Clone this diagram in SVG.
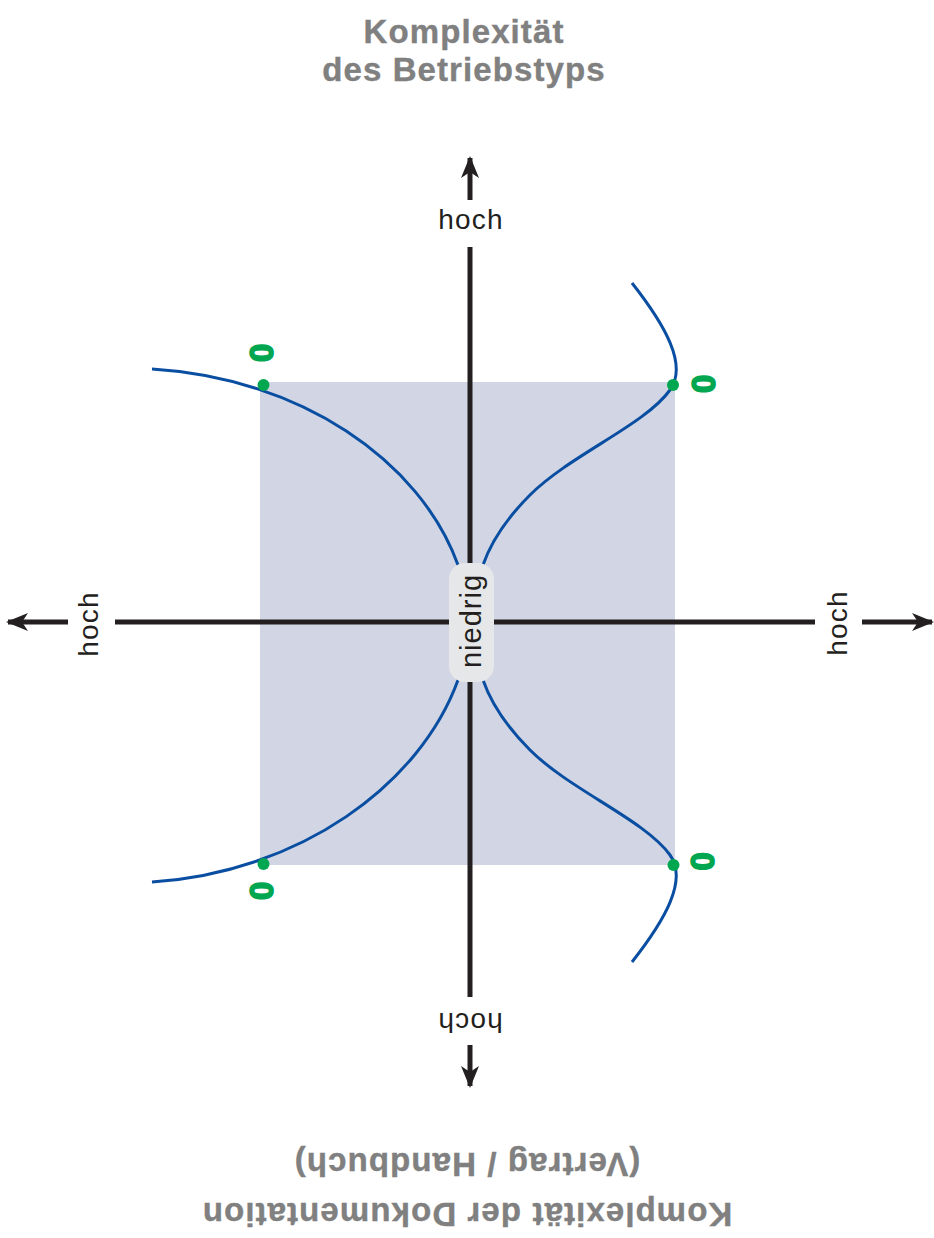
<svg xmlns="http://www.w3.org/2000/svg" width="934" height="1238" viewBox="0 0 934 1238">
<style>
.title{font-family:"Liberation Sans",Arial,sans-serif;font-weight:bold;font-size:33px;fill:#808080;stroke:#808080;stroke-width:0.4;letter-spacing:1.1px;text-anchor:middle}
.axis{stroke:#231f20;stroke-width:5;fill:none}
.lbl{font-family:"Liberation Sans",Arial,sans-serif;font-size:28px;fill:#231f20;letter-spacing:1.2px;text-anchor:middle}
.curve{stroke:#0a4ea2;stroke-width:3;fill:none}
.dot{fill:#00a650}
.zero{font-family:"Liberation Sans",Arial,sans-serif;font-weight:bold;font-size:33px;fill:#00a650;stroke:#00a650;stroke-width:1.6;text-anchor:middle;dominant-baseline:central}
</style>
<defs>
<marker id="ah" viewBox="0 0 22 18" refX="20" refY="9" markerWidth="22" markerHeight="18" markerUnits="userSpaceOnUse" orient="auto">
<path d="M0,0 L22,9 L0,18 L6,9 Z" fill="#231f20"/>
</marker>
</defs>
<rect id="area" x="260" y="382" width="415" height="483" fill="#d2d6e4"/>
<g id="title">
<text class="title" x="464" y="43">Komplexität</text>
<text class="title" x="464" y="81">des Betriebstyps</text>
</g>
<g id="title-bottom" transform="translate(467,1153) rotate(180)">
<text class="title" x="0" y="0">(Vertrag / Handbuch)</text>
<text class="title" x="0" y="-50">Komplexität der Dokumentation</text>
</g>
<g id="connectors">
<line class="axis" x1="470" y1="200" x2="470" y2="158" marker-end="url(#ah)"/>
<line class="axis" x1="470" y1="247" x2="470" y2="997"/>
<line class="axis" x1="470" y1="1045" x2="470" y2="1086" marker-end="url(#ah)"/>
<line class="axis" x1="68" y1="622" x2="8" y2="622" marker-end="url(#ah)"/>
<line class="axis" x1="115" y1="622" x2="815" y2="622"/>
<line class="axis" x1="862" y1="622" x2="932" y2="622" marker-end="url(#ah)"/>
<path class="curve" d="M152,369 C300,378 420,460 458,565"/>
<path class="curve" d="M152,882 C300,872 420,785 458,680"/>
<path class="curve" d="M632,283 C665,325 688,365 670,390 C645,425 570,455 530,495 C505,520 490,545 483,565"/>
<path class="curve" d="M632,962 C665,920 688,880 670,855 C645,820 570,790 530,750 C505,725 490,700 483,680"/>
</g>
<g id="label-top"><text class="lbl" x="471" y="229">hoch</text></g>
<g id="label-bottom" transform="translate(470,1013) rotate(180)"><text class="lbl" x="0" y="0">hoch</text></g>
<g id="label-left" transform="translate(98,624) rotate(-90)"><text class="lbl" x="0" y="0">hoch</text></g>
<g id="label-right" transform="translate(847,623) rotate(-90)"><text class="lbl" x="0" y="0">hoch</text></g>
<g id="center">
<rect x="449" y="563" width="45" height="119" rx="16" fill="#e6e7e8"/>
<text class="lbl" style="font-size:29px;letter-spacing:1px" transform="translate(481,621) rotate(-90)" x="0" y="0">niedrig</text>
</g>
<g id="point-tl"><circle class="dot" cx="263.5" cy="385" r="6"/><text class="zero" transform="translate(261.5,353) rotate(90)">0</text></g>
<g id="point-tr"><circle class="dot" cx="673" cy="385" r="6"/><text class="zero" transform="translate(703,384) rotate(90)">0</text></g>
<g id="point-bl"><circle class="dot" cx="263.5" cy="864" r="6"/><text class="zero" transform="translate(261,891) rotate(90)">0</text></g>
<g id="point-br"><circle class="dot" cx="673.5" cy="865" r="6"/><text class="zero" transform="translate(702.5,861.5) rotate(90)">0</text></g>
</svg>
